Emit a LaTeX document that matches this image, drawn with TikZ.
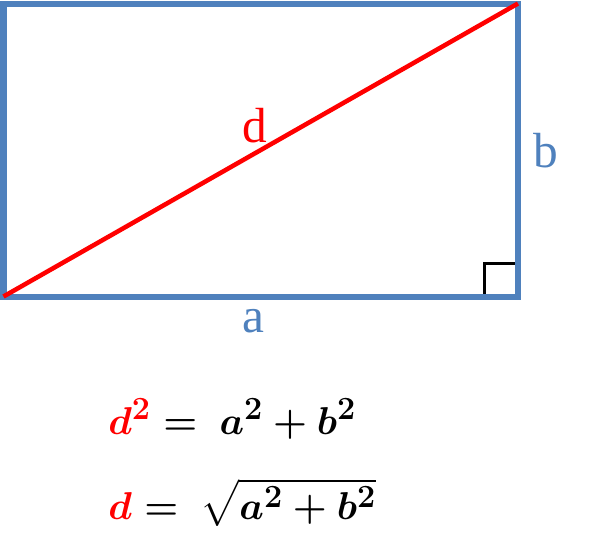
\documentclass[tikz,border=0pt]{standalone}
\usepackage[rgb]{xcolor}
\usepackage{amsmath}
\usepackage{fontspec}
\setmainfont{Liberation Serif}
\usepackage{tikz}
\definecolor{rectblue}{HTML}{4F81BD}
\definecolor{diagred}{HTML}{FF0000}

\begin{document}
\begin{tikzpicture}[x=0.75pt, y=-0.75pt]
            \useasboundingbox (0, 0) rectangle (589, 544);

            \coordinate (A) at (3.5, 296.5);
            \coordinate (B) at (518, 296.5);
            \coordinate (C) at (518, 3.5);
            \coordinate (D) at (3.5, 3.5);

            \coordinate (r1) at (484.5, 296.5);
            \coordinate (r2) at (484.5, 263.5);
            \coordinate (r3) at (518, 263.5);

            % right angle
            \draw [black, line width=2.4pt] (r1) -- (r2) -- (r3);

            \draw [rectblue, line width=4.5pt] (A) -- (B) -- (C) -- (D) -- cycle;
            \draw [diagred, line width=3.4pt] (A) -- (C);

            \node[text=diagred, font=\fontsize{37}{40}\selectfont] (d) at (255, 126) {d};
            \node[text=rectblue, font=\fontsize{37}{40}\selectfont] (b) at (546, 151) {b};
            \node[text=rectblue, font=\fontsize{37}{40}\selectfont] (a) at (253, 321) {a};

            \node[anchor=base west, inner sep=0pt, scale=1.17, font=\fontsize{24.88}{28}\selectfont\boldmath] (eq1) at (108, 434) {\(\textcolor{diagred}{d^2} \mathrel{=}\mkern4mu a^2 + b^2\)};
            \node[anchor=base west, inner sep=0pt, scale=1.17, font=\fontsize{24.88}{28}\selectfont\boldmath] (eq2) at (108, 519) {\(\textcolor{diagred}{d} \mathrel{=}\mkern4mu \sqrt{a^2 + b^2}\)};

        \end{tikzpicture}
\end{document}
